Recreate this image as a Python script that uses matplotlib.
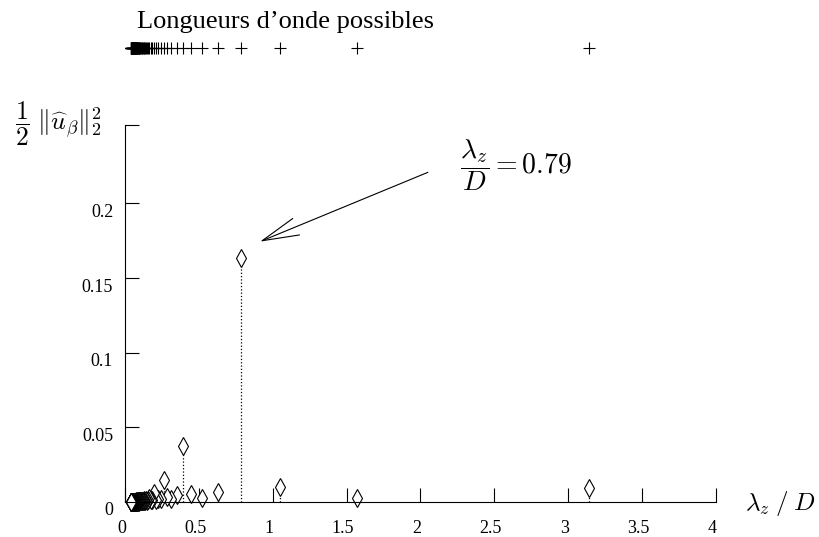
import numpy as np
import matplotlib
matplotlib.use("Agg")
import matplotlib.pyplot as plt
from matplotlib.transforms import ScaledTranslation

plt.rcParams["font.family"] = ["Liberation Serif", "DejaVu Serif"]
plt.rcParams["mathtext.fontset"] = "cm"

# modes n = 1..80, wavelength lambda_z / D = pi / n
modes = np.arange(1, 81)
wavelengths = np.pi / modes

# energy of each mode
energy_main = [0.0094, 0.0027, 0.0100, 0.1636, 0.0067, 0.0027, 0.0054, 0.0377,
               0.0047, 0.0020, 0.0035, 0.0148, 0.0020, 0.0022, 0.0012, 0.0060,
               0.0015, 0.0010, 0.0030, 0.0012]
energy_tail = [0.0008, 0.0010, 0.0006, 0.0012, 0.0005, 0.0008, 0.0004, 0.0006,
               0.0005, 0.0007, 0.0004, 0.0005, 0.0003, 0.0006, 0.0004, 0.0003,
               0.0005, 0.0003, 0.0004, 0.0002, 0.0003, 0.0004, 0.0002, 0.0003,
               0.0002, 0.0003, 0.0002, 0.0002, 0.0003, 0.0002, 0.0001, 0.0002,
               0.0002, 0.0001, 0.0002, 0.0001, 0.0001, 0.0002, 0.0001, 0.0001,
               0.0001, 0.0001, 0.0001, 0.0001, 0.0001, 0.0001, 0.0001, 0.0001,
               0.0001, 0.0001, 0.0001, 0.0001, 0.0001, 0.0001, 0.0001, 0.0001,
               0.0001, 0.0001, 0.0001, 0.0001]
energy = np.array(energy_main + energy_tail)

xticks = [0, 0.5, 1, 1.5, 2, 2.5, 3, 3.5, 4]
xticklabels = ["0", "0.5", "1", "1.5", "2", "2.5", "3", "3.5", "4"]
yticks = [0, 0.05, 0.1, 0.15, 0.2, 0.2525]
yticklabels = ["0", "0.05", "0.1", "0.15", "0.2", ""]

fig = plt.figure(figsize=(8.19, 5.37), dpi=100)

# main plot
ax = fig.add_axes([0.1526, 0.0652, 0.7216, 0.702])
ax.vlines(wavelengths, 0, energy, colors="black", linestyles=":", linewidth=0.9)
ax.plot(wavelengths, energy, linestyle="none", marker="d", markersize=9,
        markerfacecolor="white", markeredgecolor="black", markeredgewidth=0.8,
        clip_on=False)
ax.set_xlim(0, 4)
ax.set_ylim(0, 0.2525)
ax.set_xticks(xticks)
ax.set_xticklabels(xticklabels)
ax.set_yticks(yticks)
ax.set_yticklabels(yticklabels)
ax.tick_params(direction="in", length=10, width=0.8, labelsize=13)
ax.tick_params(axis="x", pad=13)
ax.tick_params(axis="y", pad=8.5)
for s in ["top", "right"]:
    ax.spines[s].set_visible(False)
for s in ["left", "bottom"]:
    ax.spines[s].set_linewidth(0.8)

# labels sit a little off their ticks in the original
for lab in ax.get_yticklabels():
    lab.set_transform(lab.get_transform() + ScaledTranslation(0, -0.07, fig.dpi_scale_trans))
for lab in ax.get_xticklabels():
    lab.set_transform(lab.get_transform() + ScaledTranslation(-0.035, 0, fig.dpi_scale_trans))

ax.annotate("", xy=(0.914, 0.1744), xytext=(2.05, 0.2208),
            arrowprops=dict(arrowstyle="->,head_length=1.65,head_width=0.4",
                            color="black", lw=0.8, shrinkA=0, shrinkB=0,
                            mutation_scale=16))
ax.text(2.267, 0.2256, r"$\dfrac{\lambda_z}{D} = 0.79$", fontsize=20,
        va="center", ha="left")

fig.text(0.018, 0.77, r"$\dfrac{1}{2}\;\|\widehat{u}_\beta\|_2^2$", fontsize=18.5,
         ha="left", va="center")
fig.text(0.9096, 0.063, r"$\lambda_z\;/\;D$", fontsize=18, ha="left", va="center")

# row of possible wavelengths
top = fig.add_axes([0.1526, 0.89, 0.7216, 0.04])
top.plot(wavelengths, np.zeros_like(wavelengths), linestyle="none", marker="+",
         markersize=8, color="black", markeredgewidth=0.8)
top.set_xlim(0, 4)
top.set_ylim(-1, 1)
top.axis("off")
fig.text(0.167, 0.959, "Longueurs d\u2019onde possibles", fontsize=19,
         ha="left", va="center")

fig.savefig("out.png", dpi=100)
